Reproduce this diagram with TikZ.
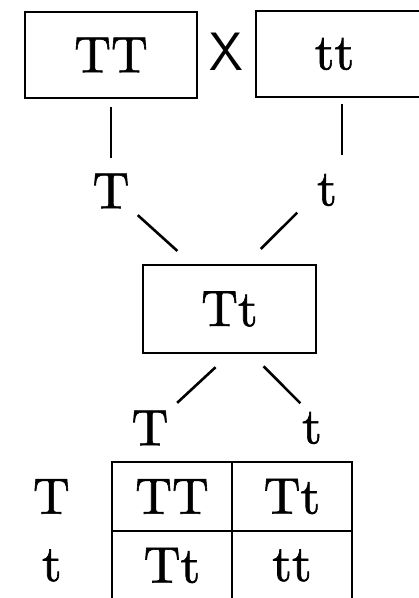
\documentclass[tikz,border=0pt]{standalone}
\usepackage{fontspec}
\setmainfont{lmroman10-regular.otf}[FakeBold=1.2]
\usetikzlibrary{positioning}

\begin{document}
\begin{tikzpicture}[
    x=1pt, y=-1pt,
    every node/.style={inner sep=0pt, font=\fontsize{51}{58}\selectfont},
    parent/.style={rectangle, draw, line width=2.6pt, minimum width=172pt, minimum height=86pt},
    cell/.style={rectangle, draw, line width=2.6pt, outer sep=0pt, minimum width=120pt, minimum height=69pt},
    link/.style={line width=2.6pt},
]
\clip (0,0) rectangle (419,598);

% Parents
\node[parent] (TT) at (111,55) {TT};
\node[parent] (tt) at (342,54) {tt\kern15pt};
\node[font=\sffamily\fontsize{54}{60}\selectfont] (cross) at (226,52) {X};

% Gametes and F1
\node (pT) at (111,191) {T};
\node (pt) at (327,190) {t};
\node[parent, minimum width=173pt, minimum height=88pt] (Tt) at (229.5,309) {Tt};
\node (qT) at (150,428) {T};
\node (qt) at (312,428) {t};

\draw[link, shorten <=52pt, shorten >=33pt] (TT.center) -- (pT.center);
\draw[link, shorten <=50pt, shorten >=35pt] (tt.center) -- (tt.center |- pt.center);
\draw[link, shorten <=36pt, shorten >=19pt] (pT.center) -- (Tt.130);
\draw[link, shorten <=42pt, shorten >=21pt] ([yshift=7pt]pt.center) -- (Tt.70);
\draw[link, shorten <=19pt, shorten >=37pt] (Tt.south) -- (qT.center);
\draw[link, shorten <=17pt, shorten >=35pt] (Tt.-64) -- ([xshift=13pt]qt.center);

% Punnett square
\node[cell] (c11) at (172,496.5) {TT};
\node[cell, right=0pt of c11] (c12) {Tt};
\node[cell, below=0pt of c11] (c21) {Tt};
\node[cell, right=0pt of c21] (c22) {tt};
\node[left=42pt of c11] (rT) {T};
\node[left=50pt of c21] (rt) {t};
\end{tikzpicture}
\end{document}
